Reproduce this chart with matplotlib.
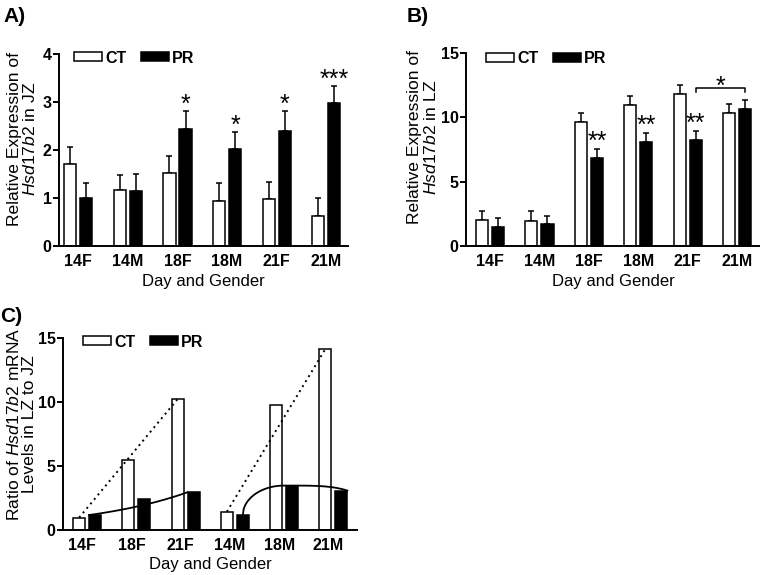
import numpy as np
import matplotlib.pyplot as plt
from matplotlib.patches import Patch

plt.rcParams['font.family'] = ['Liberation Sans', 'DejaVu Sans']
plt.rcParams['mathtext.fontset'] = 'custom'
plt.rcParams['mathtext.rm'] = 'Liberation Sans'
plt.rcParams['mathtext.it'] = 'Liberation Sans:italic'

# A) Hsd17b2 in junctional zone
groups_ab = ['14F', '14M', '18F', '18M', '21F', '21M']
jz_ct = [1.70, 1.17, 1.52, 0.94, 0.98, 0.63]
jz_ct_sem = [0.37, 0.31, 0.36, 0.38, 0.36, 0.38]
jz_pr = [1.01, 1.15, 2.43, 2.02, 2.39, 2.98]
jz_pr_sem = [0.30, 0.35, 0.39, 0.35, 0.43, 0.36]
jz_stars = ['', '', '*', '*', '*', '***']

# B) Hsd17b2 in labyrinth zone
lz_ct = [2.05, 1.92, 9.66, 10.93, 11.82, 10.32]
lz_ct_sem = [0.67, 0.80, 0.67, 0.70, 0.73, 0.74]
lz_pr = [1.47, 1.68, 6.83, 8.12, 8.25, 10.65]
lz_pr_sem = [0.71, 0.65, 0.72, 0.70, 0.72, 0.66]
lz_stars = ['', '', '**', '**', '**', '']

# C) ratio LZ / JZ
groups_c = ['14F', '18F', '21F', '14M', '18M', '21M']
ratio_ct = [0.97, 5.48, 10.23, 1.43, 9.78, 14.14]
ratio_pr = [1.17, 2.40, 2.95, 1.17, 3.47, 3.08]

W = 0.245    # bar width
OFF = 0.162  # half distance between CT and PR bars
FS = 11.5
YFS = 12.6
STAR_FS = 18


def style_axis(ax, ylim, yticks, xlim, labels):
    ax.set_xlim(*xlim)
    ax.set_ylim(*ylim)
    ax.set_yticks(yticks)
    ax.set_xticks(np.arange(len(labels)))
    ax.set_xticklabels(labels, fontsize=FS, fontweight='bold')
    for t in ax.get_yticklabels():
        t.set_fontsize(FS)
        t.set_fontweight('bold')
    ax.spines['top'].set_visible(False)
    ax.spines['right'].set_visible(False)
    ax.spines['left'].set_linewidth(1.4)
    ax.spines['bottom'].set_linewidth(1.4)
    ax.tick_params(axis='x', length=0, pad=6)
    ax.tick_params(axis='y', length=4.3, width=1.4, pad=1)
    ax.set_xlabel('Day and Gender', fontsize=12, labelpad=3)


def add_legend(ax, anchor):
    handles = [Patch(facecolor='white', edgecolor='black', lw=1.1, label='CT'),
               Patch(facecolor='black', edgecolor='black', lw=1.1, label='PR')]
    ax.legend(handles=handles, loc='center left', bbox_to_anchor=anchor, ncol=2,
              frameon=False, handlelength=1.75, handleheight=0.5, handletextpad=0.2,
              columnspacing=0.9, borderpad=0, borderaxespad=0,
              prop={'size': FS, 'weight': 'bold'})


def grouped_bars(ax, ct, ct_sem, pr, pr_sem):
    x = np.arange(len(ct))
    ax.bar(x - OFF, ct, W, color='white', edgecolor='black', lw=1.1, zorder=2)
    ax.bar(x + OFF, pr, W, color='black', edgecolor='black', lw=1.1, zorder=2)
    z = np.zeros(len(ct))
    ax.errorbar(x - OFF, ct, yerr=[z, ct_sem], fmt='none', ecolor='black',
                elinewidth=1.1, capsize=2.5, capthick=1.1, zorder=1)
    ax.errorbar(x + OFF, pr, yerr=[z, pr_sem], fmt='none', ecolor='black',
                elinewidth=1.1, capsize=2.5, capthick=1.1, zorder=1)


def add_stars(ax, pr, pr_sem, stars, gap):
    for i, s in enumerate(stars):
        if s:
            ax.text(i + OFF, pr[i] + pr_sem[i] + gap, s, ha='center', va='baseline',
                    fontsize=STAR_FS)


def ylabel(x, y, s):
    fig.text(x / 760, 1 - y / 575, s, rotation=90, ha='center', va='center',
             fontsize=YFS, multialignment='center', linespacing=1.0)


fig = plt.figure(figsize=(7.6, 5.75), dpi=100)

# panel A
axA = fig.add_axes([59 / 760, 1 - 246 / 575, 289 / 760, 192 / 575])
grouped_bars(axA, jz_ct, jz_ct_sem, jz_pr, jz_pr_sem)
style_axis(axA, (0, 4), [0, 1, 2, 3, 4], (-0.39, 5.44), groups_ab)
add_stars(axA, jz_pr, jz_pr_sem, jz_stars, -0.02)
add_legend(axA, (0.052, 0.979))
ylabel(22.5, 139, 'Relative Expression of\n$\\it{Hsd17b2}$ in JZ')
fig.text(3 / 760, 1 - 22 / 575, 'A)', fontsize=15, fontweight='bold')

# panel B
axB = fig.add_axes([466 / 760, 1 - 246 / 575, 294 / 760, 193 / 575])
grouped_bars(axB, lz_ct, lz_ct_sem, lz_pr, lz_pr_sem)
style_axis(axB, (0, 15), [0, 5, 10, 15], (-0.485, 5.46), groups_ab)
add_stars(axB, lz_pr, lz_pr_sem, lz_stars, 0.0)
add_legend(axB, (0.068, 0.969))
# bracket 21F PR vs 21M PR
yb = 12.25
axB.plot([4 + OFF, 4 + OFF, 5 + OFF, 5 + OFF], [yb - 0.3, yb, yb, yb - 0.3],
         color='black', lw=1.1)
axB.text(4.5 + OFF, yb - 0.45, '*', ha='center', va='baseline', fontsize=STAR_FS)
ylabel(423, 137.5, 'Relative Expression of\n$\\it{Hsd17b2}$ in LZ')
fig.text(407 / 760, 1 - 22 / 575, 'B)', fontsize=15, fontweight='bold')

# panel C
SHIFT = 0.1
axC = fig.add_axes([63 / 760, 1 - 530 / 575, 294 / 760, 192 / 575])
xc = np.arange(len(groups_c)) + SHIFT
axC.bar(xc - OFF, ratio_ct, W, color='white', edgecolor='black', lw=1.1, zorder=2)
axC.bar(xc + OFF, ratio_pr, W, color='black', edgecolor='black', lw=1.1, zorder=2)
style_axis(axC, (0, 15), [0, 5, 10, 15], (-0.39, 5.58), groups_c)
add_legend(axC, (0.068, 0.979))

# dotted CT trend lines (first to last day within each sex)
for a, b in [(0, 2), (3, 5)]:
    axC.plot([xc[a] - OFF, xc[b] - OFF], [ratio_ct[a], ratio_ct[b]], color='black',
             lw=1.4, ls=(0, (1, 2)), zorder=3)

# solid PR curve, females
xs = np.linspace(xc[0] + OFF - W / 2, xc[2] + OFF - W / 2, 50)
axC.plot(xs, np.geomspace(ratio_pr[0], ratio_pr[2], 50), color='black', lw=1.3, zorder=3)

# solid PR curve, males (rises to plateau)
x0, xp, xe = xc[3] + OFF, xc[4], xc[5] + OFF + W / 2
t1 = np.linspace(0, 1, 60)
seg1 = ratio_pr[3] + (ratio_pr[4] - ratio_pr[3]) * np.sqrt(1 - (1 - t1) ** 2)
t2 = np.linspace(0, 1, 60)
seg2 = ratio_pr[4] - (ratio_pr[4] - ratio_pr[5]) * t2 ** 4
axC.plot(np.concatenate([x0 + (xp - x0) * t1, xp + (xe - xp) * t2]),
         np.concatenate([seg1, seg2]), color='black', lw=1.3, zorder=3)

ylabel(21.5, 424, 'Ratio of $\\it{Hsd17b2}$ mRNA\nLevels in LZ to JZ')
fig.text(0 / 760, 1 - 322 / 575, 'C)', fontsize=15, fontweight='bold')

fig.savefig('out.png', dpi=100)
